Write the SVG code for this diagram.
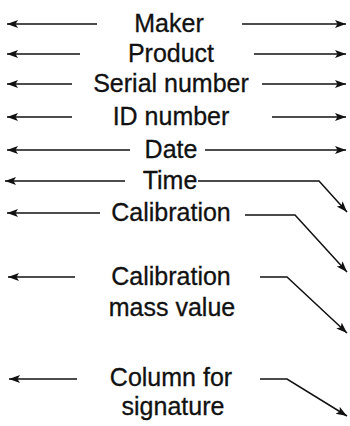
<svg xmlns="http://www.w3.org/2000/svg" width="350" height="426" viewBox="0 0 350 426">
<style>
text{font-family:"Liberation Sans",Arial,Helvetica,sans-serif;font-size:25px;fill:#111;stroke:#111;stroke-width:0.3;text-anchor:middle}
.c{fill:none;stroke:#111;stroke-width:1.5;marker-end:url(#ah)}
</style>
<defs>
<marker id="ah" markerUnits="userSpaceOnUse" markerWidth="12" markerHeight="9" refX="11" refY="4" orient="auto" viewBox="0 0 12 9">
<path d="M0,0 L11,4 L0,8 L2.5,4 Z" fill="#111"/>
</marker>
</defs>
<rect width="350" height="426" fill="#fff"/>
<g id="maker"><text x="169" y="32">Maker</text></g>
<g id="product"><text x="171" y="62">Product</text></g>
<g id="serial"><text x="171" y="92">Serial number</text></g>
<g id="id-number"><text x="171" y="125">ID number</text></g>
<g id="date"><text x="171" y="158">Date</text></g>
<g id="time"><text x="170" y="189">Time</text></g>
<g id="calibration"><text x="171" y="221">Calibration</text></g>
<g id="calibration-mass"><text x="171" y="285">Calibration</text><text x="172" y="316">mass value</text></g>
<g id="signature"><text x="171" y="386">Column for</text><text x="173" y="415">signature</text></g>
<g id="connectors">
<path class="c" d="M97,24 H7"/>
<path class="c" d="M242,24 H346"/>
<path class="c" d="M80,54 H7"/>
<path class="c" d="M254,54 H346"/>
<path class="c" d="M72,84 H7"/>
<path class="c" d="M262,84 H346"/>
<path class="c" d="M72,117 H7"/>
<path class="c" d="M272,117 H346"/>
<path class="c" d="M130,150 H7"/>
<path class="c" d="M205,150 H346"/>
<path class="c" d="M125,181 H5"/>
<path class="c" d="M198,181 H319 L347,212"/>
<path class="c" d="M100,213 H7"/>
<path class="c" d="M245,215 H295 L347,272"/>
<path class="c" d="M75,277 H8"/>
<path class="c" d="M260,277 H287 L347,333"/>
<path class="c" d="M77,379 H9"/>
<path class="c" d="M260,379 H287 L347,416"/>
</g>
</svg>
